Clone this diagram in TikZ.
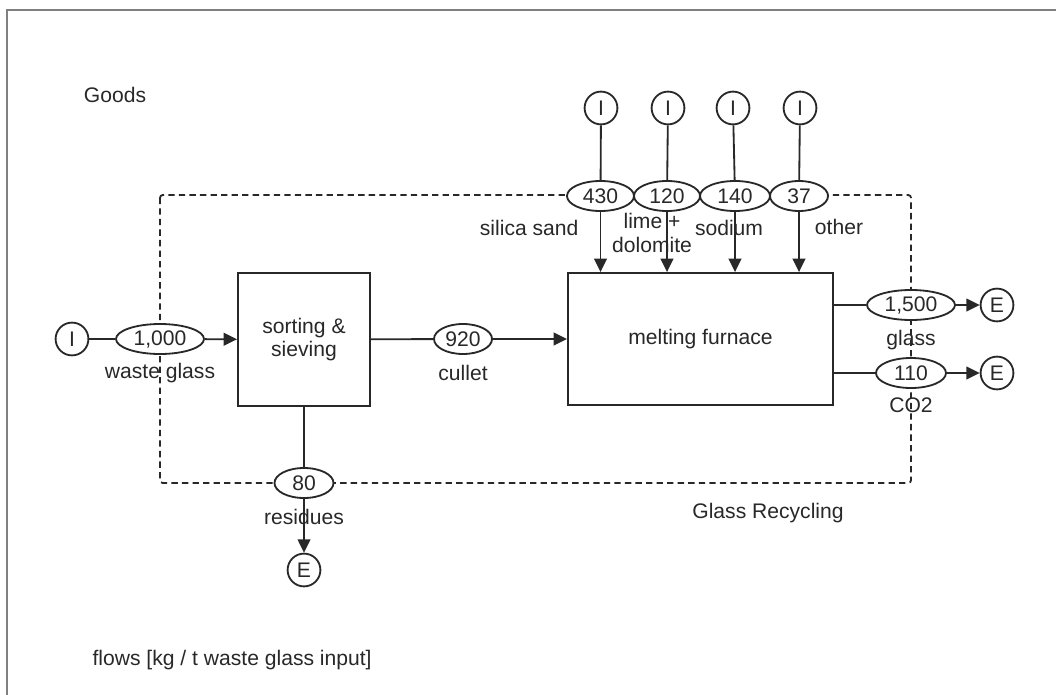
\documentclass[tikz,border=0pt]{standalone}
\usepackage{fontspec}
\setmainfont{Liberation Sans}
\usepackage{tikz}
\usetikzlibrary{shapes.geometric, arrows.meta}
\definecolor{ink}{RGB}{40,40,40}

\begin{document}
\begin{tikzpicture}[x=0.025cm, y=-0.025cm, color=ink, line width=1.3pt,
  font=\fontsize{15}{17}\selectfont,
  process/.style={draw, rectangle, align=center, fill=white, inner sep=0pt},
  flow/.style={draw, ellipse, fill=white, minimum height=0.75cm, inner sep=0pt},
  ends/.style={draw, circle, fill=white, minimum size=0.82cm, inner sep=0pt},
  arr/.style={-{Triangle[length=9.5pt,width=9pt]}}]
\useasboundingbox (0,0) rectangle (1056,695);
\draw[gray, line width=1.3pt] (7,695) -- (7,10) -- (1056,10);

% system boundary
\draw[dashed, dash pattern=on 4.5pt off 3pt, rounded corners=2pt] (160,195) rectangle (911,483);

\node (goods) at (115,95) {Goods};
\node (units) [anchor=west] at (87,660) {flows [kg / t waste glass input]};
\node (system) at (768,513) {Glass Recycling};

% processes
\node (sort) [process, minimum width=3.3cm, minimum height=3.325cm] at (304,339.5) {sorting \&\\sieving};
\node (furnace) [process, minimum width=6.625cm, minimum height=3.3cm] at (700.5,339) {melting furnace};

% imports and exports
\node (iwaste) [ends] at (72,339) {I};
\node (isand) [ends] at (601,108) {I};
\node (ilime) [ends] at (668,108) {I};
\node (isodium) [ends] at (733,108) {I};
\node (iother) [ends] at (800,108) {I};
\node (eres) [ends] at (304,570) {E};
\node (eglass) [ends] at (997,305) {E};
\node (eco) [ends] at (997,373) {E};

% flows
\node (fwaste) [flow, minimum width=2.2cm] at (160,339) {1,000};
\node (fcullet) [flow, minimum width=1.45cm] at (463,339) {920};
\node (fres) [flow, minimum width=1.475cm] at (304,483) {80};
\node (fsand) [flow, minimum width=1.675cm] at (600.5,196) {430};
\node (flime) [flow, minimum width=1.65cm] at (667,196) {120};
\node (fsodium) [flow, minimum width=1.75cm] at (735,196) {140};
\node (fother) [flow, minimum width=1.45cm] at (799,196) {37};
\node (fglass) [flow, minimum width=2.2cm] at (911,305) {1,500};
\node (fco) [flow, minimum width=1.75cm] at (911,373) {110};

\node (lwaste) at (160,373) {waste glass};
\node (lcullet) at (463,373) {cullet};
\node (lres) at (304,517) {residues};
\node (lsand) [anchor=east] at (584,228) {silica sand};
\node (llime) [align=center] at (652,233) {lime +\\dolomite};
\node (lsodium) at (729,228) {sodium};
\node (lother) at (839,227) {other};
\node (lglass) at (911,340) {glass};
\node (lco) at (911,405) {CO2};

\draw (iwaste) -- (fwaste);
\draw[arr] (fwaste) -- (sort);
\draw (sort) -- (fcullet);
\draw[arr] (fcullet) -- (furnace);
\draw (sort) -- (fres);
\draw[arr] (fres) -- (eres);

\draw (isand) -- (fsand);
\draw[arr] (fsand) -- (fsand |- furnace.north);
\draw (ilime) -- (flime);
\draw[arr] (flime) -- (flime |- furnace.north);
\draw (isodium) -- (fsodium);
\draw[arr] (fsodium) -- (fsodium |- furnace.north);
\draw (iother) -- (fother);
\draw[arr] (fother) -- (fother |- furnace.north);

\draw (furnace.east |- fglass) -- (fglass);
\draw[arr] (fglass) -- (eglass);
\draw (furnace.east |- fco) -- (fco);
\draw[arr] (fco) -- (eco);
\end{tikzpicture}
\end{document}
